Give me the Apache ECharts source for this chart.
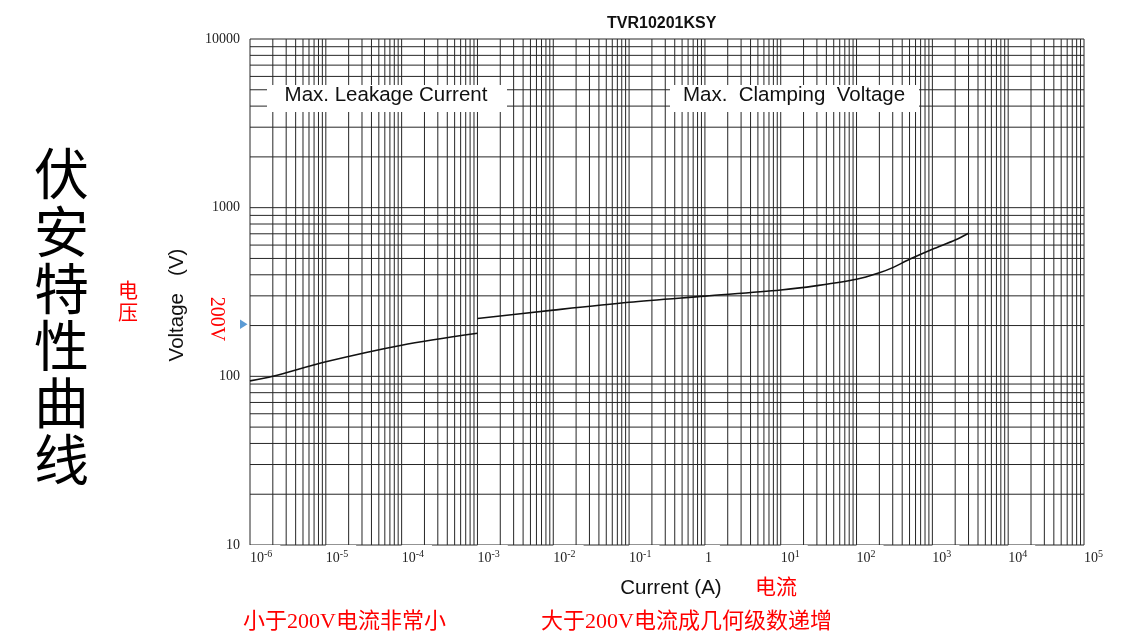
<!DOCTYPE html>
<html>
<head>
<meta charset="utf-8">
<script src="https://cdn.jsdelivr.net/npm/echarts@6/dist/echarts.min.js"></script>
<style>
html,body{margin:0;padding:0;background:#fff;}
#chart{width:1138px;height:642px;}
</style>
</head>
<body>
<div id="chart"></div>
<script>
// ---- data ----
const chartTitle = 'TVR10201KSY';
const xTickValues = [1e-6, 1e-5, 1e-4, 1e-3, 1e-2, 1e-1, 1, 10, 100, 1000, 10000, 100000];
const yTickValues = [10, 100, 1000, 10000];
const gridMultipliers = [1, 2, 3, 4, 5, 6, 7, 8, 9];
// Max. Leakage Current branch
const leakageCurrent = [1e-6, 2e-6, 1e-5, 1e-4, 1e-3];
const leakageVoltage = [94, 100, 122, 153, 180];
// Max. Clamping Voltage branch
const clampCurrent = [1e-3, 1e-2, 1e-1, 1, 10, 30, 100, 200, 300, 500, 1000, 2000, 3000];
const clampVoltage = [220, 247, 275, 299, 325, 345, 376, 411, 441, 494, 567, 643, 705];

// ---- helpers ----
function decadeLines(ticks) {
  const out = [];
  for (let i = 0; i < ticks.length - 1; i++) {
    gridMultipliers.forEach(m => out.push(+(m * ticks[i]).toPrecision(6)));
  }
  out.push(ticks[ticks.length - 1]);
  return out;
}
const vLines = decadeLines(xTickValues);
const hLines = decadeLines(yTickValues);
const zip = (a, b) => a.map((v, i) => [v, b[i]]);
const gridData = vLines.map(v => [v, 100, 0]).concat(hLines.map(v => [1, v, 1]));

const serif = '"Liberation Serif", "DejaVu Serif", serif';
const sans = '"Liberation Sans", Arial, sans-serif';
const cjk = '"Liberation Serif", "Noto Sans CJK SC", sans-serif';

const chart = echarts.init(document.getElementById('chart'));
chart.setOption({
  backgroundColor: '#fff',
  animation: false,
  title: {
    text: chartTitle,
    left: 602, top: 11,
    textStyle: { fontFamily: sans, fontSize: 16, fontWeight: 'bold', color: '#111' }
  },
  grid: { left: 250, right: 54, top: 39, bottom: 97 },
  xAxis: {
    type: 'log', logBase: 10, min: 1e-6, max: 1e5, z: 5,
    axisLine: { show: false }, axisTick: { show: false }, splitLine: { show: false },
    name: 'Current (A)', nameLocation: 'middle', nameGap: 33,
    nameTextStyle: { fontFamily: sans, fontSize: 20.5, color: '#111', padding: [0, 0, 0, 8] },
    axisLabel: {
      customValues: xTickValues,
      margin: 0, align: 'left',
      backgroundColor: '#fff', padding: [4, 8, 2, 0],
      fontFamily: serif, color: '#222',
      formatter: function (v) {
        const e = Math.round(Math.log10(v));
        if (e === 0) return '{b|1}';
        return '{b|10}{s|' + e + '}';
      },
      rich: {
        b: { fontFamily: serif, fontSize: 14, lineHeight: 16, verticalAlign: 'bottom', color: '#222' },
        s: { fontFamily: serif, fontSize: 10, lineHeight: 10, verticalAlign: 'top', color: '#222' }
      }
    }
  },
  yAxis: {
    type: 'log', logBase: 10, min: 10, max: 10000,
    axisLine: { show: false }, axisTick: { show: false }, splitLine: { show: false },
    name: 'Voltage   (V)', nameLocation: 'middle', nameGap: 62,
    nameTextStyle: { fontFamily: sans, fontSize: 20.5, color: '#111', padding: [0, 26, 0, 0] },
    axisLabel: {
      customValues: yTickValues,
      margin: 10, fontFamily: serif, fontSize: 14, color: '#222',
      formatter: v => String(Math.round(v))
    }
  },
  series: [
    {
      name: 'grid', type: 'custom', z: 1, silent: true,
      dimensions: ['x', 'y', 'k'],
      encode: { x: 0, y: 1 },
      data: gridData,
      renderItem: function (params, api) {
        const cs = params.coordSys;
        const p = api.coord([api.value(0), api.value(1)]);
        const vertical = api.value(2) === 0;
        const shape = vertical
          ? { x1: p[0], y1: cs.y, x2: p[0], y2: cs.y + cs.height }
          : { x1: cs.x, y1: p[1], x2: cs.x + cs.width, y2: p[1] };
        return { type: 'line', shape: shape, style: { stroke: '#262626', lineWidth: 1 } };
      }
    },
    {
      name: 'Max. Leakage Current', type: 'line', z: 3,
      data: zip(leakageCurrent, leakageVoltage),
      smooth: 0.3, showSymbol: false, symbol: 'none',
      lineStyle: { color: '#111', width: 1.6 }
    },
    {
      name: 'Max. Clamping Voltage', type: 'line', z: 3,
      data: zip(clampCurrent, clampVoltage),
      smooth: 0.3, showSymbol: false, symbol: 'none',
      lineStyle: { color: '#111', width: 1.6 }
    }
  ],
  graphic: [
    { type: 'rect', z: 100, shape: { x: 267, y: 85, width: 240, height: 27 }, style: { fill: '#fff' } },
    { type: 'text', z: 101, x: 386, y: 95, style: { text: 'Max. Leakage Current', font: '20.5px ' + sans, fill: '#111', align: 'center', verticalAlign: 'middle' } },
    { type: 'rect', z: 100, shape: { x: 670, y: 85, width: 249, height: 27 }, style: { fill: '#fff' } },
    { type: 'text', z: 101, x: 794, y: 95, style: { text: 'Max.  Clamping  Voltage', font: '20.5px ' + sans, fill: '#111', align: 'center', verticalAlign: 'middle' } },
    { type: 'text', z: 101, x: 61.5, y: 316.5, style: { text: '伏\n安\n特\n性\n曲\n线', font: '55px "Noto Sans CJK SC", sans-serif', lineHeight: 57.2, fill: '#000', align: 'center', verticalAlign: 'middle' } },
    { type: 'text', z: 101, x: 128, y: 301.5, style: { text: '电\n压', font: '20px "Noto Sans CJK SC", sans-serif', lineHeight: 22, fill: '#ff0000', align: 'center', verticalAlign: 'middle' } },
    { type: 'text', z: 101, x: 216.5, y: 319, rotation: -Math.PI / 2, style: { text: '200V', font: '20px ' + serif, fill: '#ff0000', align: 'center', verticalAlign: 'middle' } },
    { type: 'polygon', z: 101, shape: { points: [[240, 319.5], [247.5, 324.3], [240, 329]] }, style: { fill: '#5B9BD5' } },
    { type: 'text', z: 101, x: 755, y: 588.5, style: { text: '电流', font: '21px ' + cjk, fill: '#ff0000', align: 'left', verticalAlign: 'middle' } },
    { type: 'text', z: 101, x: 243, y: 622, style: { text: '小于200V电流非常小', font: '22px ' + cjk, fill: '#ff0000', align: 'left', verticalAlign: 'middle' } },
    { type: 'text', z: 101, x: 541, y: 622, style: { text: '大于200V电流成几何级数递增', font: '22px ' + cjk, fill: '#ff0000', align: 'left', verticalAlign: 'middle' } }
  ]
});
</script>
</body>
</html>
